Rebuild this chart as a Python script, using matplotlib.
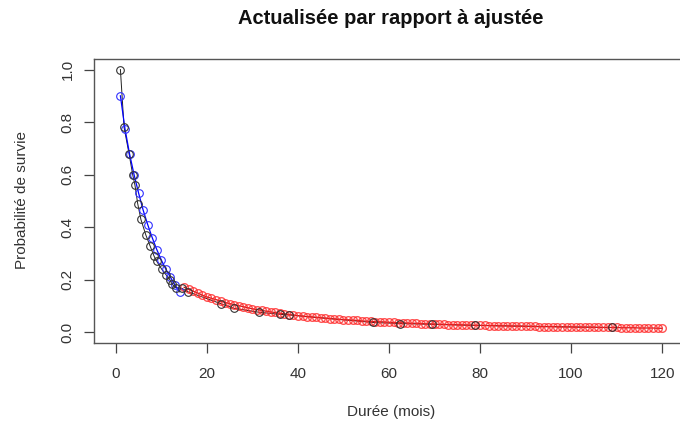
import numpy as np
import matplotlib.pyplot as plt

plt.rcParams['font.family'] = ['Liberation Sans', 'DejaVu Sans']

# survie observée (Kaplan-Meier)
t_obs = [1, 1.8, 2.9, 3.7, 4.2, 4.8, 5.5, 6.6, 7.5, 8.4, 9.0, 10.1, 11, 11.9,
         12.3, 13.2, 14.5, 15.8, 23, 26, 31.4, 36, 38, 56.5, 62.4, 69.5, 79, 109]
s_obs = [1.0, 0.78, 0.68, 0.60, 0.56, 0.49, 0.43, 0.37, 0.33, 0.29, 0.27, 0.24,
         0.22, 0.20, 0.185, 0.17, 0.168, 0.155, 0.11, 0.092, 0.077, 0.069, 0.067,
         0.038, 0.034, 0.031, 0.027, 0.019]

# survie ajustée sur la période observée
t_fit = list(range(1, 15))
s_fit = [0.90, 0.775, 0.68, 0.60, 0.53, 0.465, 0.41, 0.36, 0.315, 0.275, 0.24,
         0.21, 0.18, 0.155]

# survie extrapolée
t_ext = list(range(15, 121))
s_ext = [0.172, 0.164, 0.157, 0.150, 0.142, 0.135,
         0.130, 0.125, 0.119, 0.114, 0.110,
         0.106, 0.102, 0.098, 0.094, 0.090,
         0.087, 0.084, 0.081, 0.078, 0.076,
         0.073, 0.071, 0.068, 0.066, 0.064,
         0.062, 0.060, 0.059, 0.057, 0.056,
         0.054, 0.053, 0.051, 0.050, 0.049,
         0.048, 0.047, 0.046, 0.044, 0.043,
         0.042, 0.041, 0.041, 0.040, 0.039,
         0.038, 0.037, 0.037, 0.036, 0.035,
         0.035, 0.034, 0.033, 0.033, 0.032,
         0.031, 0.031, 0.030, 0.030, 0.029,
         0.029, 0.028, 0.028, 0.027, 0.027,
         0.027, 0.026, 0.026, 0.025, 0.025,
         0.025, 0.024, 0.024, 0.024, 0.023,
         0.023, 0.023, 0.022, 0.022, 0.022,
         0.022, 0.021, 0.021, 0.021, 0.021,
         0.020, 0.020, 0.020, 0.020, 0.020,
         0.019, 0.019, 0.019, 0.019, 0.019,
         0.018, 0.018, 0.018, 0.018, 0.017,
         0.017, 0.017, 0.017, 0.016, 0.016]

x_ticks = [0, 20, 40, 60, 80, 100, 120]
y_ticks = [0.0, 0.2, 0.4, 0.6, 0.8, 1.0]

fig = plt.figure(figsize=(6.8, 4.25), dpi=100)
ax = fig.add_axes([94/680, 82/425, 590/680, 284/425])

ms = 5.5
# observé : ligne noire sous les autres séries
ax.plot(t_obs, s_obs, '-', color='#222222', lw=0.7, zorder=1)
ax.plot(t_obs, s_obs, 'o', mfc='none', mec='#333333', ms=ms, mew=0.8, zorder=4)
# ajusté
ax.plot(t_fit, s_fit, '-', color='blue', lw=0.9, zorder=2)
ax.plot(t_fit, s_fit, 'o', mfc='none', mec='#3030ff', ms=ms, mew=0.8, zorder=3)
# extrapolé
ax.plot(t_ext, s_ext, '-', color='#c01818', lw=0.9, zorder=2)
ax.plot(t_ext, s_ext, 'o', mfc='none', mec='#ff2a2a', alpha=0.8, ms=ms,
        mew=1.0, zorder=3)

ax.set_xlim(-4.8, 124.8)
ax.set_ylim(-0.04, 1.04)
ax.set_xticks(x_ticks)
ax.set_yticks(y_ticks)
ax.set_xticklabels([str(v) for v in x_ticks])
ax.set_yticklabels(['%.1f' % v for v in y_ticks], rotation=90, va='center')
ax.tick_params(length=7, width=0.9, color='#444444', labelcolor='#333333',
               labelsize=11)
ax.tick_params(axis='x', pad=10)
ax.tick_params(axis='y', pad=7)
for sp in ax.spines.values():
    sp.set_color('#555555')
    sp.set_linewidth(1.0)

fig.text(391/680, 1 - 18/425, 'Actualisée par rapport à ajustée', ha='center',
         va='center', fontsize=14.5, fontweight='bold', color='#111111')
fig.text(391/680, 1 - 412/425, 'Durée (mois)', ha='center', va='center',
         fontsize=11, color='#333333')
fig.text(22/680, 1 - 200/425, 'Probabilité de survie', ha='center', va='center',
         rotation=90, fontsize=11, color='#333333')

fig.savefig('out.png', dpi=100)
